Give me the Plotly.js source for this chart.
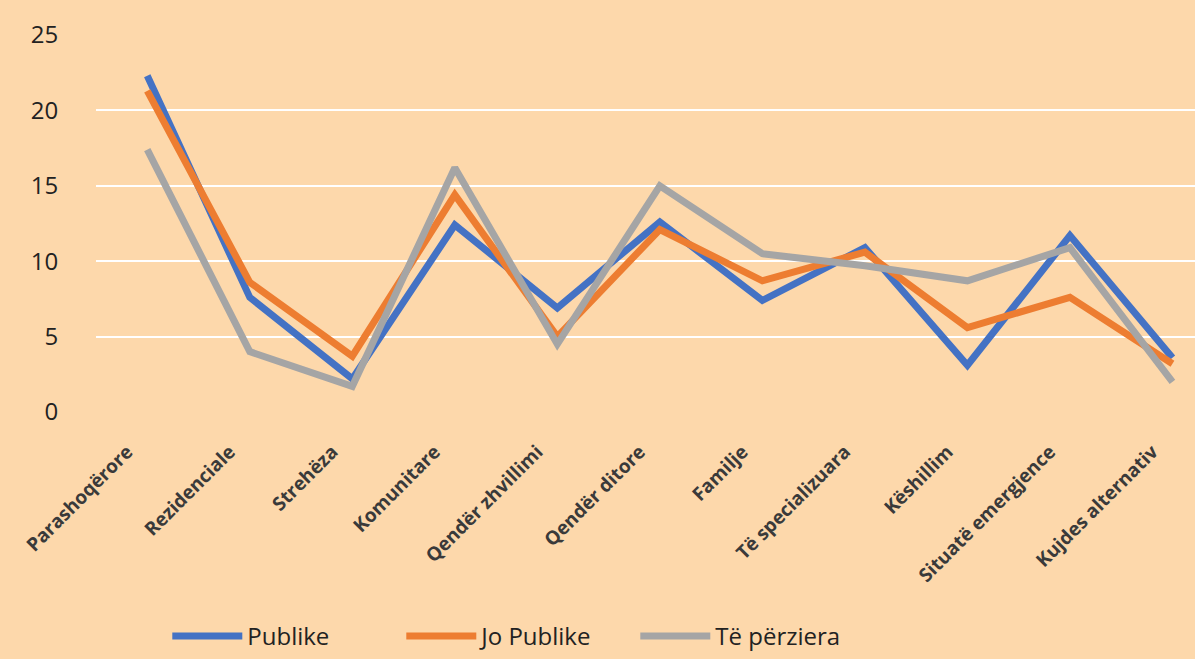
<!DOCTYPE html>
<html>
<head>
<meta charset="utf-8">
<script src="https://cdn.plot.ly/plotly-3.0.1.min.js"></script>
<style>html,body{margin:0;padding:0;background:#FDD8AB;}#chart{width:1195px;height:659px;}</style>
</head>
<body>
<div id="chart"></div>
<script>
const categories = ["Parashoqërore","Rezidenciale","Strehëza","Komunitare","Qendër zhvillimi","Qendër ditore","Familje","Të specializuara","Këshillim","Situatë emergjence","Kujdes alternativ"];
const publike   = [22.3, 7.6, 2.2, 12.4, 6.9, 12.6, 7.4, 10.9, 3.1, 11.7, 3.6];
const joPublike = [21.3, 8.6, 3.7, 14.4, 5.0, 12.1, 8.7, 10.6, 5.6, 7.6, 3.2];
const tePerziera= [17.4, 4.0, 1.7, 16.2, 4.5, 15.0, 10.5, 9.7, 8.7, 10.9, 2.0];
const seriesNames = ["Publike","Jo Publike","Të përziera"];
const yTicks = [0,5,10,15,20,25];

const colors = ["#4472C4","#ED7D31","#A5A5A5"];
const data = [publike, joPublike, tePerziera].map((v,i)=>({
  type:'scatter', mode:'lines', x:categories, y:v, name:seriesNames[i],
  line:{color:colors[i], width:7}
}));

const layout = {
  width:1195, height:659,
  paper_bgcolor:'#FDD8AB', plot_bgcolor:'#FDD8AB',
  margin:{l:96, r:0, t:35, b:247},
  showlegend:true,
  legend:{orientation:'h', xref:'container', yref:'container', x:0.14, xanchor:'left', y:-0.01, yanchor:'bottom',
    font:{family:'Open Sans, sans-serif', size:24, color:'#222'}, itemwidth:70, entrywidth:149, bgcolor:'rgba(0,0,0,0)'},
  xaxis:{type:'category', range:[-0.5,10.22], showgrid:false, zeroline:false, showline:false,
    tickangle:-45, ticks:'', ticklabelstandoff:24, ticklabelshift:-20,
    tickfont:{family:'Open Sans, sans-serif', size:19, color:'#3a3a3a', weight:'bold'}},
  yaxis:{range:[0,25], tickvals:yTicks, ticktext:yTicks.map(String), showgrid:true, gridcolor:'#FFFFFF', gridwidth:2,
    zeroline:false, showline:false, ticks:'outside', ticklen:32, tickcolor:'rgba(0,0,0,0)',
    tickfont:{family:'Open Sans, sans-serif', size:24, color:'#222'}}
};
Plotly.newPlot('chart', data, layout, {displayModeBar:false, staticPlot:true});
</script>
</body>
</html>
